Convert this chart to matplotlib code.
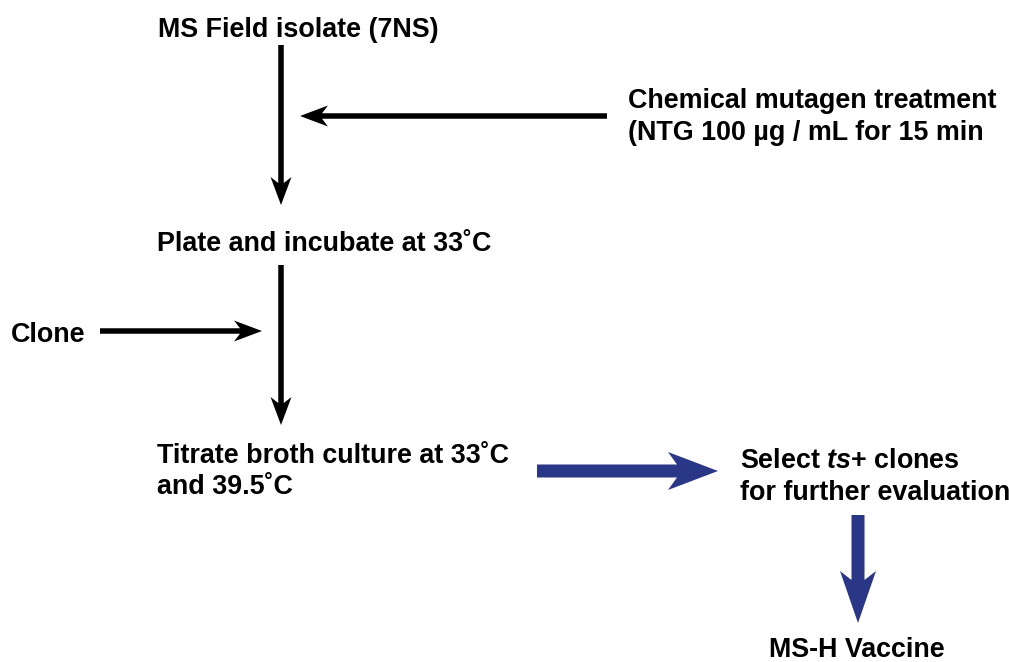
#!/usr/bin/env python3

import matplotlib
matplotlib.use('Agg')
import matplotlib.pyplot as plt
from matplotlib.patches import Polygon

# Flowchart labels
top_label = 'MS Field isolate (7NS)'
mutagen_lines = ['Chemical mutagen treatment', '(NTG 100 µg / mL for 15 min']
plate_label = 'Plate and incubate at 33˚C'
clone_label = 'Clone'
titrate_lines = ['Titrate broth culture at 33˚C', 'and 39.5˚C']
select_lines = ['Select $\\it{ts}$+ clones', 'for further evaluation']
vaccine_label = 'MS-H Vaccine'

plt.rcParams['font.family'] = ['Liberation Sans', 'DejaVu Sans']
plt.rcParams['font.weight'] = 'bold'
plt.rcParams['mathtext.fontset'] = 'custom'
plt.rcParams['mathtext.it'] = 'Liberation Sans:italic:bold'
plt.rcParams['mathtext.rm'] = 'Liberation Sans:bold'

BLUE = '#293786'
FS = 19.4

fig = plt.figure(figsize=(10.09, 6.62), dpi=100)
ax = fig.add_axes([0, 0, 1, 1])
ax.set_xlim(0, 1009)
ax.set_ylim(662, 0)
ax.axis('off')


def arrow(x0, y0, x1, y1, shaft, head_w, head_l, notch, color):
    # notched arrow polygon, drawn in pixel space
    dx, dy = x1 - x0, y1 - y0
    length = (dx ** 2 + dy ** 2) ** 0.5
    ux, uy = dx / length, dy / length
    px, py = -uy, ux
    def pt(a, b):
        return (x0 + ux * a + px * b, y0 + uy * a + py * b)
    base = length - head_l
    pts = [pt(0, -shaft / 2), pt(base + notch, -shaft / 2), pt(base, -head_w / 2),
           pt(length, 0), pt(base, head_w / 2), pt(base + notch, shaft / 2),
           pt(0, shaft / 2)]
    ax.add_patch(Polygon(pts, closed=True, facecolor=color, edgecolor='none'))


# black arrows
arrow(281, 45, 281, 205, 5.5, 21, 28, 6, 'black')
arrow(607, 116, 300, 116, 5.5, 21, 28, 6, 'black')
arrow(281, 265, 281, 425, 5.5, 21, 28, 6, 'black')
arrow(100, 331, 262, 331, 5.5, 21, 28, 6, 'black')

# blue arrows
arrow(537, 471, 718, 471, 13, 38, 50, 9, BLUE)
arrow(858, 515, 858, 623, 13, 36, 52, 9, BLUE)

# texts
ax.text(158, 37, top_label, fontsize=FS, va='baseline')
ax.text(628, 108, mutagen_lines[0], fontsize=FS, va='baseline')
ax.text(628, 140, mutagen_lines[1], fontsize=FS, va='baseline')
ax.text(157, 251, plate_label, fontsize=FS, va='baseline')
ax.text(11, 342, clone_label, fontsize=FS, va='baseline')
ax.text(157, 463, titrate_lines[0], fontsize=FS, va='baseline')
ax.text(157, 494, titrate_lines[1], fontsize=FS, va='baseline')
ax.text(740, 468, select_lines[0], fontsize=FS, va='baseline')
ax.text(740, 500, select_lines[1], fontsize=FS, va='baseline')
ax.text(769, 657, vaccine_label, fontsize=FS, va='baseline')

fig.savefig('out.png', dpi=100)
